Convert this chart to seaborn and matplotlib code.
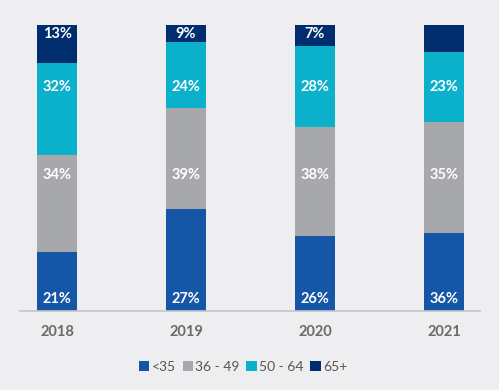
import numpy as np
import pandas as pd
import matplotlib
matplotlib.use("Agg")
import matplotlib.pyplot as plt
import seaborn as sns
from matplotlib.patches import Patch

# %% data
years = ["2018", "2019", "2020", "2021"]
groups = ["<35", "36 - 49", "50 - 64", "65+"]
under35 = [20.6, 35.7, 26.2, 27.3]
age36_49 = [33.9, 35.3, 38.1, 38.8]
age50_64 = [32.2, 23.1, 28.3, 24.5]
over65 = [13.3, 5.9, 7.4, 9.4]
# printed labels (as shown on the original)
lab_under35 = ["21%", "27%", "26%", "36%"]
lab_36_49 = ["34%", "39%", "38%", "35%"]
lab_50_64 = ["32%", "24%", "28%", "23%"]
lab_over65 = ["13%", "9%", "7%", ""]

colors = ["#1656a6", "#a7a8ab", "#0bb0cb", "#002d6e"]
bg = "#eeeef1"

df = pd.DataFrame({"year": years, "<35": under35, "36 - 49": age36_49,
                   "50 - 64": age50_64, "65+": over65})
cum = df[groups].cumsum(axis=1)
cum["year"] = years

sns.set_style("white")
plt.rcParams["font.family"] = ["Lato", "DejaVu Sans"]

fig = plt.figure(figsize=(4.99, 3.90), dpi=100, facecolor=bg)
ax = fig.add_axes([20 / 499, 79 / 390, 460 / 499, 286 / 390])
ax.set_facecolor(bg)

# stacked bars: draw cumulative totals, tallest first
for g, c in reversed(list(zip(groups, colors))):
    sns.barplot(data=cum, x="year", y=g, color=c, width=0.31,
                saturation=1, ax=ax, edgecolor="none")

# labels sit on fixed rows in the original
label_rows = [4.2, 47.6, 78.3, 97.0]
for labels, row in zip([lab_under35, lab_36_49, lab_50_64, lab_over65], label_rows):
    for i, t in enumerate(labels):
        ax.text(i, row, t, ha="center", va="center", color="white",
                fontsize=10.5, fontweight="bold")

ax.set_ylim(0, 100)
ax.set_xlim(-0.287, 3.279)
ax.set_xlabel("")
ax.set_ylabel("")
ax.set_yticks([])
ax.tick_params(axis="x", length=0, pad=10, labelsize=10.5, labelcolor="#6a6a6a")
for lbl in ax.get_xticklabels():
    lbl.set_fontweight("bold")
for s in ["top", "right", "left"]:
    ax.spines[s].set_visible(False)
ax.spines["bottom"].set_color("#c4c4c8")
ax.spines["bottom"].set_linewidth(1.2)

handles = [Patch(facecolor=c, edgecolor="none") for c in colors]
fig.legend(handles, groups, loc="center", bbox_to_anchor=(243 / 499, 1 - 367 / 390),
           ncol=4, frameon=False, fontsize=10, handlelength=0.75, handleheight=0.75,
           handletextpad=0.15, columnspacing=0.5, labelcolor="#555555")

fig.savefig("out.png", dpi=100, facecolor=bg)
